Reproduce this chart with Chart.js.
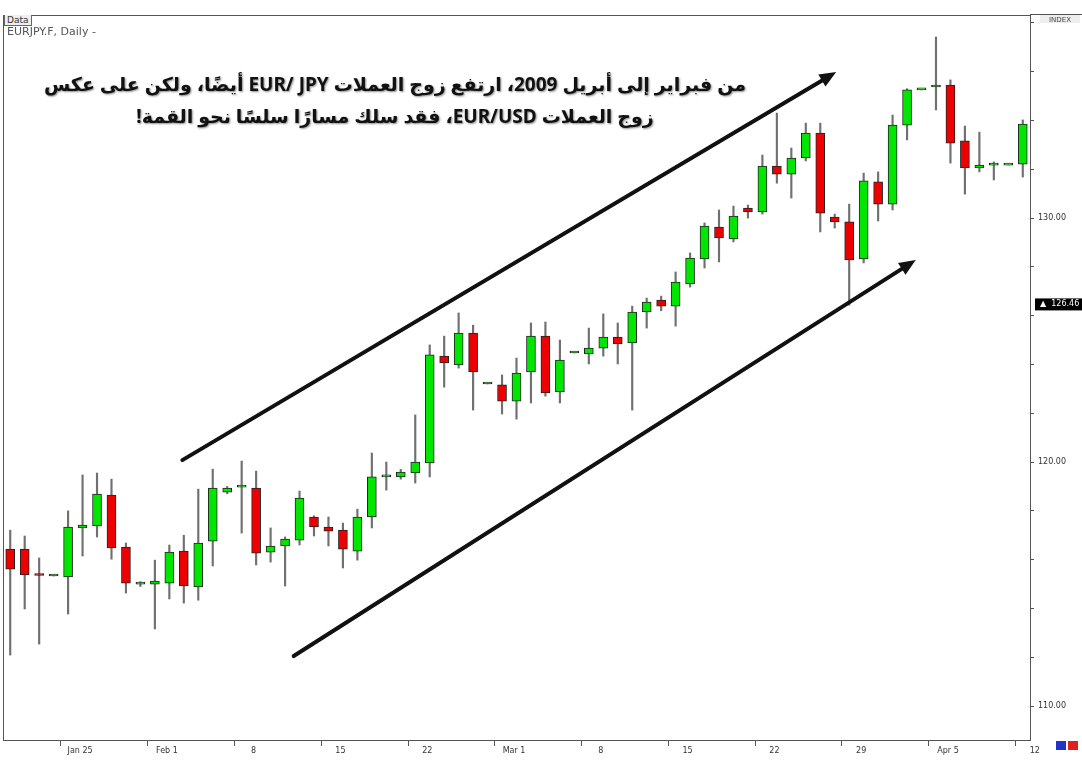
<!DOCTYPE html>
<html>
<head>
<meta charset="utf-8">
<script src="https://cdn.jsdelivr.net/npm/chart.js@4.4.0/dist/chart.umd.min.js"></script>
<style>
  body { margin: 0; background: #fff; }
  #wrap { position: relative; width: 1082px; height: 768px; }
  #note {
    position: absolute; left: 0px; width: 790px; top: 68px;
    direction: rtl; text-align: center; white-space: nowrap;
    font-family: "Noto Sans", "DejaVu Sans", sans-serif; font-weight: bold;
    font-size: 19px; line-height: 32px; color: #111;
    text-shadow: 1px 1px 2px rgba(0,0,0,0.45);
  }
  #data { position: absolute; left: 4px; top: 15px; font: 9px "DejaVu Sans", sans-serif; color: #333; border: 1px solid #666; border-top: none; padding: 0 2px; background: #eee; }
  #title { position: absolute; left: 7px; top: 25px; font: 11px "DejaVu Sans", sans-serif; color: #555; }
</style>
</head>
<body>
<div id="wrap">
  <canvas id="chart" width="1082" height="768"></canvas>
  <div id="data">Data</div>
  <div id="title">EURJPY.F, Daily -</div>
  <div id="note">من فبراير إلى أبريل 2009، ارتفع زوج العملات EUR/ JPY أيضًا، ولكن على عكس<br>زوج العملات EUR/USD، فقد سلك مسارًا سلسًا نحو القمة!</div>
</div>
<script>
// daily candles, Jan 21 - Apr 13 2009
const opens  = [116.43,116.43,115.37,115.33,115.29,117.30,117.38,118.65,116.52,115.00,115.00,115.04,116.35,114.88,116.76,118.77,118.97,118.93,116.31,116.56,116.80,117.75,117.34,117.21,116.35,117.75,119.39,119.39,119.55,119.96,124.34,123.98,125.29,123.20,123.16,122.50,123.69,125.16,122.87,124.47,124.43,124.67,125.12,124.88,126.15,126.64,126.39,127.30,128.32,129.63,129.14,130.41,130.25,132.13,131.80,132.46,133.48,130.04,129.84,128.32,131.48,130.57,133.81,135.25,135.37,135.45,133.16,132.05,132.17,132.17,132.21];
const closes = [115.61,115.37,115.35,115.33,117.34,117.42,118.69,116.48,115.04,115.00,115.12,116.31,114.92,116.68,118.93,118.93,118.97,116.27,116.56,116.84,118.52,117.34,117.17,116.43,117.75,119.39,119.39,119.59,120.00,124.39,124.06,125.29,123.69,123.20,122.50,123.65,125.16,122.83,124.18,124.47,124.67,125.12,124.84,126.15,126.56,126.39,127.38,128.36,129.67,129.18,130.08,130.25,132.13,131.80,132.46,133.48,130.20,129.84,128.28,131.52,130.57,133.81,135.25,135.25,135.45,133.07,132.05,132.17,132.17,132.17,133.85];
const highs  = [117.21,116.97,116.07,115.33,118.00,119.47,119.55,119.30,116.68,115.10,115.98,116.60,117.00,118.89,119.71,119.00,120.04,119.63,117.30,116.93,118.81,117.80,117.75,117.50,118.07,120.37,120.00,119.70,121.93,124.80,125.16,126.11,125.61,123.20,123.57,124.26,125.70,125.74,125.00,124.47,125.49,126.07,125.70,126.39,126.72,126.80,127.79,128.57,129.80,130.33,130.49,130.53,132.58,134.30,132.87,133.89,133.89,130.16,130.57,131.84,131.89,134.22,135.30,135.25,137.42,135.66,133.77,133.52,132.30,132.17,134.02];
const lows   = [112.09,113.98,112.54,115.33,113.77,116.15,116.93,116.02,114.63,114.90,113.16,114.39,114.22,114.34,115.74,118.70,117.09,115.78,115.90,114.92,116.60,116.97,116.56,115.66,115.98,117.30,118.85,119.30,119.14,119.39,123.07,123.85,122.13,123.20,121.97,121.76,122.42,122.70,122.42,124.47,124.02,124.34,124.02,122.13,125.49,126.20,125.57,127.17,127.95,128.20,129.02,130.00,130.16,131.43,130.82,132.34,129.43,129.59,126.43,128.16,129.88,130.33,133.20,135.25,134.43,132.25,130.98,131.89,131.56,132.17,131.68];

const tickLabels = ["Jan 25","Feb 1","8","15","22","Mar 1","8","15","22","29","Apr 5","12"];
const firstTick = 4, tickEvery = 6;
const lastPrice = 126.46;
// trend arrows in (candle index, price)
const arrows = [
  [[11.9, 120.08], [57.1, 135.98]],
  [[19.6, 112.05], [62.6, 128.28]]
];

const labels = opens.map((_, i) => {
  const k = (i - firstTick) / tickEvery;
  return (k >= 0 && Number.isInteger(k)) ? tickLabels[k] : "";
});
const bodyColors = opens.map((o, i) => closes[i] >= o ? "#00e600" : "#ee0000");

const extras = {
  id: "extras",
  afterDraw(chart) {
    const { ctx, scales: { x, y }, chartArea: a } = chart;
    ctx.save();
    // frame
    ctx.strokeStyle = "#555"; ctx.lineWidth = 1;
    ctx.strokeRect(a.left + 0.5, a.top + 0.5, a.right - a.left, a.bottom - a.top);
    ctx.beginPath(); ctx.moveTo(a.right, 14.5); ctx.lineTo(1082, 14.5); ctx.stroke();
    ctx.fillStyle = "#eee"; ctx.fillRect(1040, 15, 40, 8);
    ctx.fillStyle = "#444"; ctx.font = "7px DejaVu Sans"; ctx.textAlign = "center";
    ctx.fillText("INDEX", 1060, 22);
    // arrows
    ctx.strokeStyle = "#111"; ctx.fillStyle = "#111"; ctx.lineWidth = 4; ctx.lineCap = "round";
    arrows.forEach(([p0, p1]) => {
      const x0 = x.getPixelForValue(p0[0]), y0 = y.getPixelForValue(p0[1]);
      const x1 = x.getPixelForValue(p1[0]), y1 = y.getPixelForValue(p1[1]);
      const ang = Math.atan2(y1 - y0, x1 - x0);
      ctx.beginPath(); ctx.moveTo(x0, y0);
      ctx.lineTo(x1 - 10 * Math.cos(ang), y1 - 10 * Math.sin(ang)); ctx.stroke();
      ctx.beginPath(); ctx.moveTo(x1, y1);
      ctx.lineTo(x1 - 18 * Math.cos(ang - 0.4), y1 - 18 * Math.sin(ang - 0.4));
      ctx.lineTo(x1 - 18 * Math.cos(ang + 0.4), y1 - 18 * Math.sin(ang + 0.4));
      ctx.closePath(); ctx.fill();
    });
    // last price tag
    const py = y.getPixelForValue(lastPrice);
    ctx.fillStyle = "#000"; ctx.fillRect(a.right + 5, py - 6, 1082 - a.right - 5, 12);
    ctx.fillStyle = "#fff"; ctx.font = "8px DejaVu Sans"; ctx.textAlign = "left"; ctx.textBaseline = "middle";
    ctx.fillText("▲  " + lastPrice.toFixed(2), a.right + 10, py);
    // scroll buttons
    ctx.fillStyle = "#2233cc"; ctx.fillRect(1056, 741, 10, 9);
    ctx.fillStyle = "#dd2222"; ctx.fillRect(1068, 741, 10, 9);
    ctx.restore();
  }
};

new Chart(document.getElementById("chart"), {
  type: "bar",
  data: {
    labels: labels,
    datasets: [
      {
        label: "wick",
        data: lows.map((l, i) => [l, highs[i]]),
        backgroundColor: "#707070",
        barThickness: 1.5,
        grouped: false,
        order: 2
      },
      {
        label: "body",
        data: opens.map((o, i) => [o, closes[i]]),
        backgroundColor: bodyColors,
        borderColor: "#222",
        borderWidth: 1,
        borderSkipped: false,
        barThickness: 9,
        minBarLength: 2,
        grouped: false,
        order: 1
      }
    ]
  },
  options: {
    responsive: false,
    animation: false,
    layout: { padding: { left: 3, top: 15, right: 0, bottom: 0 } },
    plugins: { legend: { display: false }, tooltip: { enabled: false } },
    scales: {
      x: {
        grid: {
          drawOnChartArea: false, tickLength: 6,
          color: c => (c.tick && c.tick.label ? "#555" : "rgba(0,0,0,0)")
        },
        border: { display: false },
        afterFit: s => { s.height = 28; },
        ticks: {
          autoSkip: false, maxRotation: 0, labelOffset: 12, padding: 0,
          color: "#333", font: { family: "DejaVu Sans", size: 8 }
        }
      },
      y: {
        position: "right",
        min: 108.61, max: 138.32,
        grid: { drawOnChartArea: false, tickLength: 4, color: "#555" },
        border: { display: false },
        afterFit: s => { s.width = 52; },
        afterBuildTicks: s => {
          const t = [];
          for (let v = 110; v <= 138; v += 2) t.push({ value: v });
          s.ticks = t;
        },
        ticks: {
          color: "#333", font: { family: "DejaVu Sans", size: 8 }, padding: 4,
          callback: v => (v % 10 === 0 ? v.toFixed(2) : "")
        }
      }
    }
  },
  plugins: [extras]
});
</script>
</body>
</html>
